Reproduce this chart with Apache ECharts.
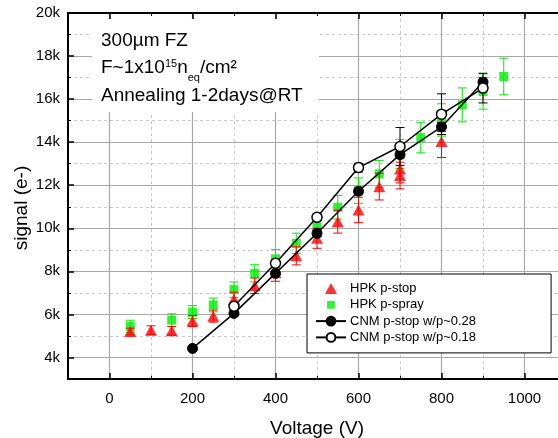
<!DOCTYPE html>
<html><head><meta charset="utf-8">
<script src="https://cdn.jsdelivr.net/npm/echarts@6/dist/echarts.min.js"></script>
<style>html,body{margin:0;padding:0;background:#fff}#c{width:558px;height:438px}</style>
</head><body><div id="c"></div>
<script>
const FONT = '"Liberation Sans", Arial, sans-serif';

// tick labels
const xMajorTicks = [0, 200, 400, 600, 800, 1000];
const yMajorTicks = [4000, 6000, 8000, 10000, 12000, 14000, 16000, 18000, 20000];

// HPK p-stop (red triangles)
const pstopV   = [50, 100, 150, 200, 250, 300, 350, 400, 450, 500, 550, 600, 650, 700, 700, 800];
const pstopSig = [5210, 5270, 5240, 5690, 5920, 6700, 7330, 7940, 8720, 9535, 10307, 10851, 11935, 12750, 12450, 14028];
const pstopErr = [150, 200, 200, 250, 280, 330, 360, 400, 420, 465, 530, 590, 620, 640, 620, 740];

// HPK p-spray (green squares)
const psprayV   = [50, 150, 200, 250, 300, 350, 400, 450, 500, 550, 600, 650, 700, 750, 800, 850, 900, 950];
const pspraySig = [5440, 5735, 6110, 6440, 7150, 7907, 8580, 9302, 10074, 10977, 11749, 12526, 13450, 14214, 15033, 15730, 16353, 17051];
const psprayErr = [290, 290, 300, 320, 360, 400, 430, 470, 500, 550, 590, 630, 670, 710, 750, 790, 820, 850];

// CNM p-stop w/p~0.28 (filled circles)
const cnm28V   = [200, 300, 400, 500, 600, 700, 800, 900];
const cnm28Sig = [4420, 6047, 7907, 9767, 11720, 13420, 14710, 16790];
const cnm28Err = [100, 100, 100, 150, 150, 150, 200, 200];

// CNM p-stop w/p~0.18 (open circles)
const cnm18V   = [300, 400, 500, 600, 700, 800, 900];
const cnm18Sig = [6380, 8372, 10510, 12819, 13800, 15302, 16512];
const cnm18Err = [150, 150, 150, 200, 880, 944, 690];

const RED = '#ff0000', GREEN = '#00ee00';

function pts(v, s) { return v.map((x, i) => [x, s[i]]); }
function errPts(v, s, e) { return v.map((x, i) => [x, s[i], e[i]]); }
function errRender(color, cap) {
  return function (params, api) {
    const x = api.value(0), y = api.value(1), e = api.value(2);
    const hi = api.coord([x, y + e]), lo = api.coord([x, y - e]);
    const w = cap / 2, st = { stroke: color, lineWidth: 1 };
    return { type: 'group', children: [
      { type: 'line', shape: { x1: hi[0], y1: hi[1], x2: lo[0], y2: lo[1] }, style: st },
      { type: 'line', shape: { x1: hi[0] - w, y1: hi[1], x2: hi[0] + w, y2: hi[1] }, style: st },
      { type: 'line', shape: { x1: lo[0] - w, y1: lo[1], x2: lo[0] + w, y2: lo[1] }, style: st }
    ]};
  };
}
function errSeries(v, s, e, color, z) {
  return { type: 'custom', renderItem: errRender(color, 9), data: errPts(v, s, e),
           encode: { x: 0, y: 1 }, z: z, silent: true, legendHoverLink: false };
}

const X_MIN = -100, X_MAX = 1100, Y_MIN = 3000, Y_MAX = 20000;
const blackLine = { show: true, onZero: false, lineStyle: { color: '#000', width: 2 } };
const noLine = { show: false, onZero: false };

const chart = echarts.init(document.getElementById('c'), null, { renderer: 'canvas' });
chart.setOption({
  animation: false,
  backgroundColor: '#fff',
  grid: { left: 68, top: 13, width: 498, height: 366, containLabel: false, outerBoundsMode: 'none' },
  xAxis: [
    { type: 'value', position: 'bottom', min: X_MIN, max: X_MAX, interval: 100, z: 1,
      axisLine: blackLine,
      axisTick: { show: true, inside: true, length: 6, customValues: xMajorTicks, lineStyle: { color: '#000', width: 1.5 } },
      axisLabel: { show: true, customValues: xMajorTicks, fontSize: 15, color: '#000', fontFamily: FONT, margin: 12,
                   formatter: v => String(v) },
      splitLine: { show: true, lineStyle: { color: '#a8a8a8', width: 1.2 } },
      name: 'Voltage (V)', nameLocation: 'middle', nameGap: 40,
      nameTextStyle: { fontSize: 19, color: '#000', fontFamily: FONT } },
    { type: 'value', position: 'bottom', min: X_MIN, max: X_MAX, interval: 200, z: 0,
      axisLine: noLine,
      axisTick: { show: true, inside: true, length: 3, lineStyle: { color: '#000', width: 1 } },
      axisLabel: { show: false },
      splitLine: { show: true, lineStyle: { color: '#c8c8c8', width: 1, type: [3, 3] } } },
    { type: 'value', position: 'top', min: X_MIN, max: X_MAX, interval: 100, z: 2,
      axisLine: blackLine,
      axisTick: { show: true, inside: true, length: 6, customValues: xMajorTicks, lineStyle: { color: '#000', width: 1.5 } },
      axisLabel: { show: false }, splitLine: { show: false } },
    { type: 'value', position: 'top', min: X_MIN, max: X_MAX, interval: 200, z: 2,
      axisLine: noLine,
      axisTick: { show: true, inside: true, length: 3, lineStyle: { color: '#000', width: 1 } },
      axisLabel: { show: false }, splitLine: { show: false } }
  ],
  yAxis: [
    { type: 'value', position: 'left', min: Y_MIN, max: Y_MAX, interval: 1000, z: 1,
      axisLine: blackLine,
      axisTick: { show: true, inside: true, length: 6, customValues: yMajorTicks, lineStyle: { color: '#000', width: 1.5 } },
      axisLabel: { show: true, customValues: yMajorTicks, fontSize: 15, color: '#000', fontFamily: FONT, margin: 8,
                   formatter: v => (v / 1000) + 'k' },
      splitLine: { show: true, lineStyle: { color: '#a8a8a8', width: 1.2 } } },
    { type: 'value', position: 'left', min: Y_MIN, max: Y_MAX, interval: 2000, z: 0,
      axisLine: noLine,
      axisTick: { show: true, inside: true, length: 3, lineStyle: { color: '#000', width: 1 } },
      axisLabel: { show: false },
      splitLine: { show: true, lineStyle: { color: '#c8c8c8', width: 1, type: [3, 3] } } }
  ],
  legend: {
    orient: 'vertical', left: 307, top: 274,
    padding: [8, 75, 9, 8], itemGap: 3.3, itemWidth: 30, itemHeight: 11,
    symbolKeepAspect: true,
    backgroundColor: '#fff', borderColor: '#000', borderWidth: 1, borderRadius: 0,
    textStyle: { fontSize: 13, color: '#000', fontFamily: FONT, padding: [0, 0, 0, -1] },
    data: [
      { name: 'HPK p-stop', icon: 'path://M0,10L5.5,0L11,10Z' },
      { name: 'HPK p-spray', icon: 'path://M0,0M14,14M2,2L12,2L12,12L2,12Z' },
      'CNM p-stop w/p~0.28', 'CNM p-stop w/p~0.18'
    ],
    z: 6
  },
  graphic: [
    { type: 'rect', z: 3, shape: { x: 92, y: 19, width: 227, height: 93 }, style: { fill: '#fff' } },
    { type: 'text', z: 4, left: 101, top: 31, style: { text: '300µm FZ', fontSize: 19, fontFamily: FONT, fill: '#000' } },
    { type: 'text', z: 4, left: 101, top: 53, style: {
        text: '{a|F~1x10}{sup|15}{a|n}{sub|eq}{a|/cm²}', fill: '#000',
        rich: {
          a: { fontSize: 19, fontFamily: FONT, lineHeight: 19, verticalAlign: 'middle' },
          sup: { fontSize: 11, fontFamily: FONT, verticalAlign: 'top', padding: [5, 0, 0, 0] },
          sub: { fontSize: 11, fontFamily: FONT, verticalAlign: 'bottom' }
        }, lineHeight: 30 } },
    { type: 'text', z: 4, left: 101, top: 86, style: { text: 'Annealing 1-2days@RT', fontSize: 19, fontFamily: FONT, fill: '#000' } },
    { type: 'text', z: 4, x: 22, y: 208, rotation: Math.PI / 2,
      style: { text: 'signal (e-)', fontSize: 19, fontFamily: FONT, fill: '#000', align: 'center', verticalAlign: 'middle' } }
  ],
  series: [
    errSeries(psprayV, pspraySig, psprayErr, GREEN, 2),
    { name: 'HPK p-spray', type: 'scatter', data: pts(psprayV, pspraySig), symbol: 'rect', symbolSize: 9,
      itemStyle: { color: GREEN }, z: 3 },
    errSeries(pstopV, pstopSig, pstopErr, RED, 4),
    { name: 'HPK p-stop', type: 'scatter', data: pts(pstopV, pstopSig), symbol: 'triangle', symbolSize: [12, 11],
      itemStyle: { color: RED }, z: 5 },
    errSeries(cnm28V, cnm28Sig, cnm28Err, '#000', 6),
    { name: 'CNM p-stop w/p~0.28', type: 'line', data: pts(cnm28V, cnm28Sig), symbol: 'circle', symbolSize: 10,
      showSymbol: true, lineStyle: { color: '#000', width: 1.5 }, itemStyle: { color: '#000', borderColor: '#000', borderWidth: 1 }, z: 7 },
    errSeries(cnm18V, cnm18Sig, cnm18Err, '#000', 8),
    { name: 'CNM p-stop w/p~0.18', type: 'line', data: pts(cnm18V, cnm18Sig), symbol: 'circle', symbolSize: 10,
      showSymbol: true, lineStyle: { color: '#000', width: 1.5 }, itemStyle: { color: '#fff', borderColor: '#000', borderWidth: 1.5 }, z: 9 }
  ]
});
</script>
</body></html>
